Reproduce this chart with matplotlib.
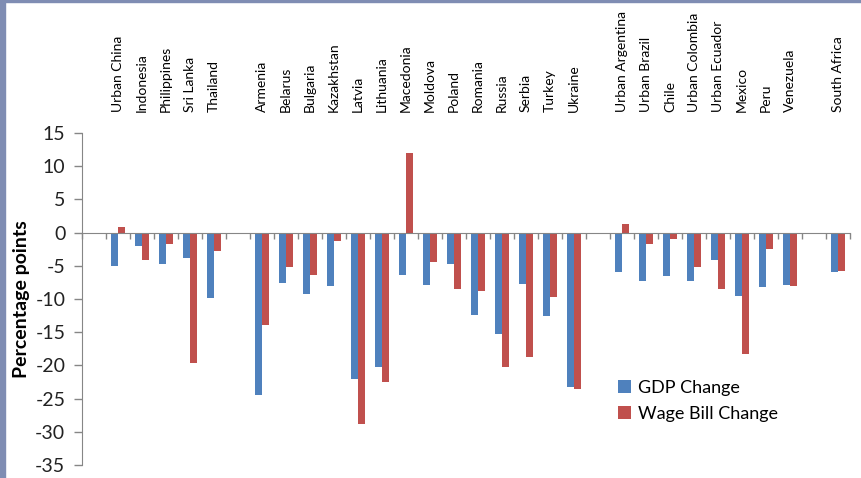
import matplotlib
matplotlib.use('Agg')
import matplotlib.pyplot as plt
from matplotlib.patches import Rectangle
import numpy as np

# Countries grouped by region; empty strings are spacer slots between groups
countries = ['', 'Urban China', 'Indonesia', 'Philippines', 'Sri Lanka', 'Thailand', '',
             'Armenia', 'Belarus', 'Bulgaria', 'Kazakhstan', 'Latvia', 'Lithuania',
             'Macedonia', 'Moldova', 'Poland', 'Romania', 'Russia', 'Serbia', 'Turkey',
             'Ukraine', '', 'Urban Argentina', 'Urban Brazil', 'Chile', 'Urban Colombia',
             'Urban Ecuador', 'Mexico', 'Peru', 'Venezuela', '', 'South Africa']

gdp_change = [np.nan, -5.0, -2.0, -4.7, -3.9, -9.8, np.nan,
              -24.4, -7.6, -9.2, -8.0, -22.0, -20.2,
              -6.4, -7.9, -4.8, -12.4, -15.2, -7.7, -12.6,
              -23.2, np.nan, -5.9, -7.3, -6.5, -7.3,
              -4.1, -9.6, -8.2, -7.9, np.nan, -6.0]

wage_bill_change = [np.nan, 0.8, -4.1, -1.7, -19.7, -2.8, np.nan,
                    -13.9, -5.2, -6.4, -1.2, -28.9, -22.5,
                    12.0, -4.4, -8.5, -8.8, -20.2, -18.7, -9.7,
                    -23.6, np.nan, 1.3, -1.7, -0.9, -5.2,
                    -8.5, -18.3, -2.4, -8.1, np.nan, -5.8]

yticks = [15, 10, 5, 0, -5, -10, -15, -20, -25, -30, -35]

blue = '#4F81BD'
red = '#C0504D'
grey = '#868686'

plt.rcParams['font.family'] = ['Lato', 'DejaVu Sans']

fig = plt.figure(figsize=(8.62, 4.78), dpi=100)
ax = fig.add_axes([0.0951, 0.0272, 0.8909, 0.6946])

x = np.arange(len(countries))
w = 0.3
ax.bar(x - w / 2, gdp_change, width=w, color=blue, label='GDP Change')
ax.bar(x + w / 2, wage_bill_change, width=w, color=red, label='Wage Bill Change')

ax.set_xlim(-0.5, len(countries) - 0.5)
ax.set_ylim(-35, 15)
ax.set_yticks(yticks)
ax.set_yticklabels([str(t) for t in yticks], fontsize=14, color='#222222')
ax.tick_params(axis='y', length=6, color=grey, width=1, pad=6)

# category labels on top, tick marks between categories on the zero line
ax.set_xticks(x)
ax.set_xticklabels(countries, fontsize=11, color='#222222')
ax.tick_params(axis='x', which='major', length=0, labeltop=True, labelbottom=False,
               top=False, bottom=False, pad=15, labelrotation=90)
ax.set_xticks(np.arange(len(countries) + 1) - 0.5, minor=True)
ax.tick_params(axis='x', which='minor', length=4, color=grey, width=1,
               bottom=True, top=False, direction='out')

ax.spines['bottom'].set_position(('data', 0))
ax.spines['bottom'].set_color(grey)
ax.spines['left'].set_color(grey)
ax.spines['top'].set_visible(False)
ax.spines['right'].set_visible(False)

ax.set_ylabel('Percentage points', fontsize=14, fontweight='bold', labelpad=4)

ax.legend(loc='center left', bbox_to_anchor=(0.698, 0.193), frameon=False,
          fontsize=13, handlelength=0.7, handleheight=0.7, handletextpad=0.4,
          labelspacing=0.55, borderpad=0, borderaxespad=0)

# slide frame on the left and top edges
fig.patches.append(Rectangle((0, 0), 5 / 862, 1, transform=fig.transFigure,
                             color='#7F8DB3', zorder=10))
fig.patches.append(Rectangle((0, 1 - 2 / 478), 1, 2 / 478, transform=fig.transFigure,
                             color='#7F8DB3', zorder=10))

plt.savefig('out.png', dpi=100)
